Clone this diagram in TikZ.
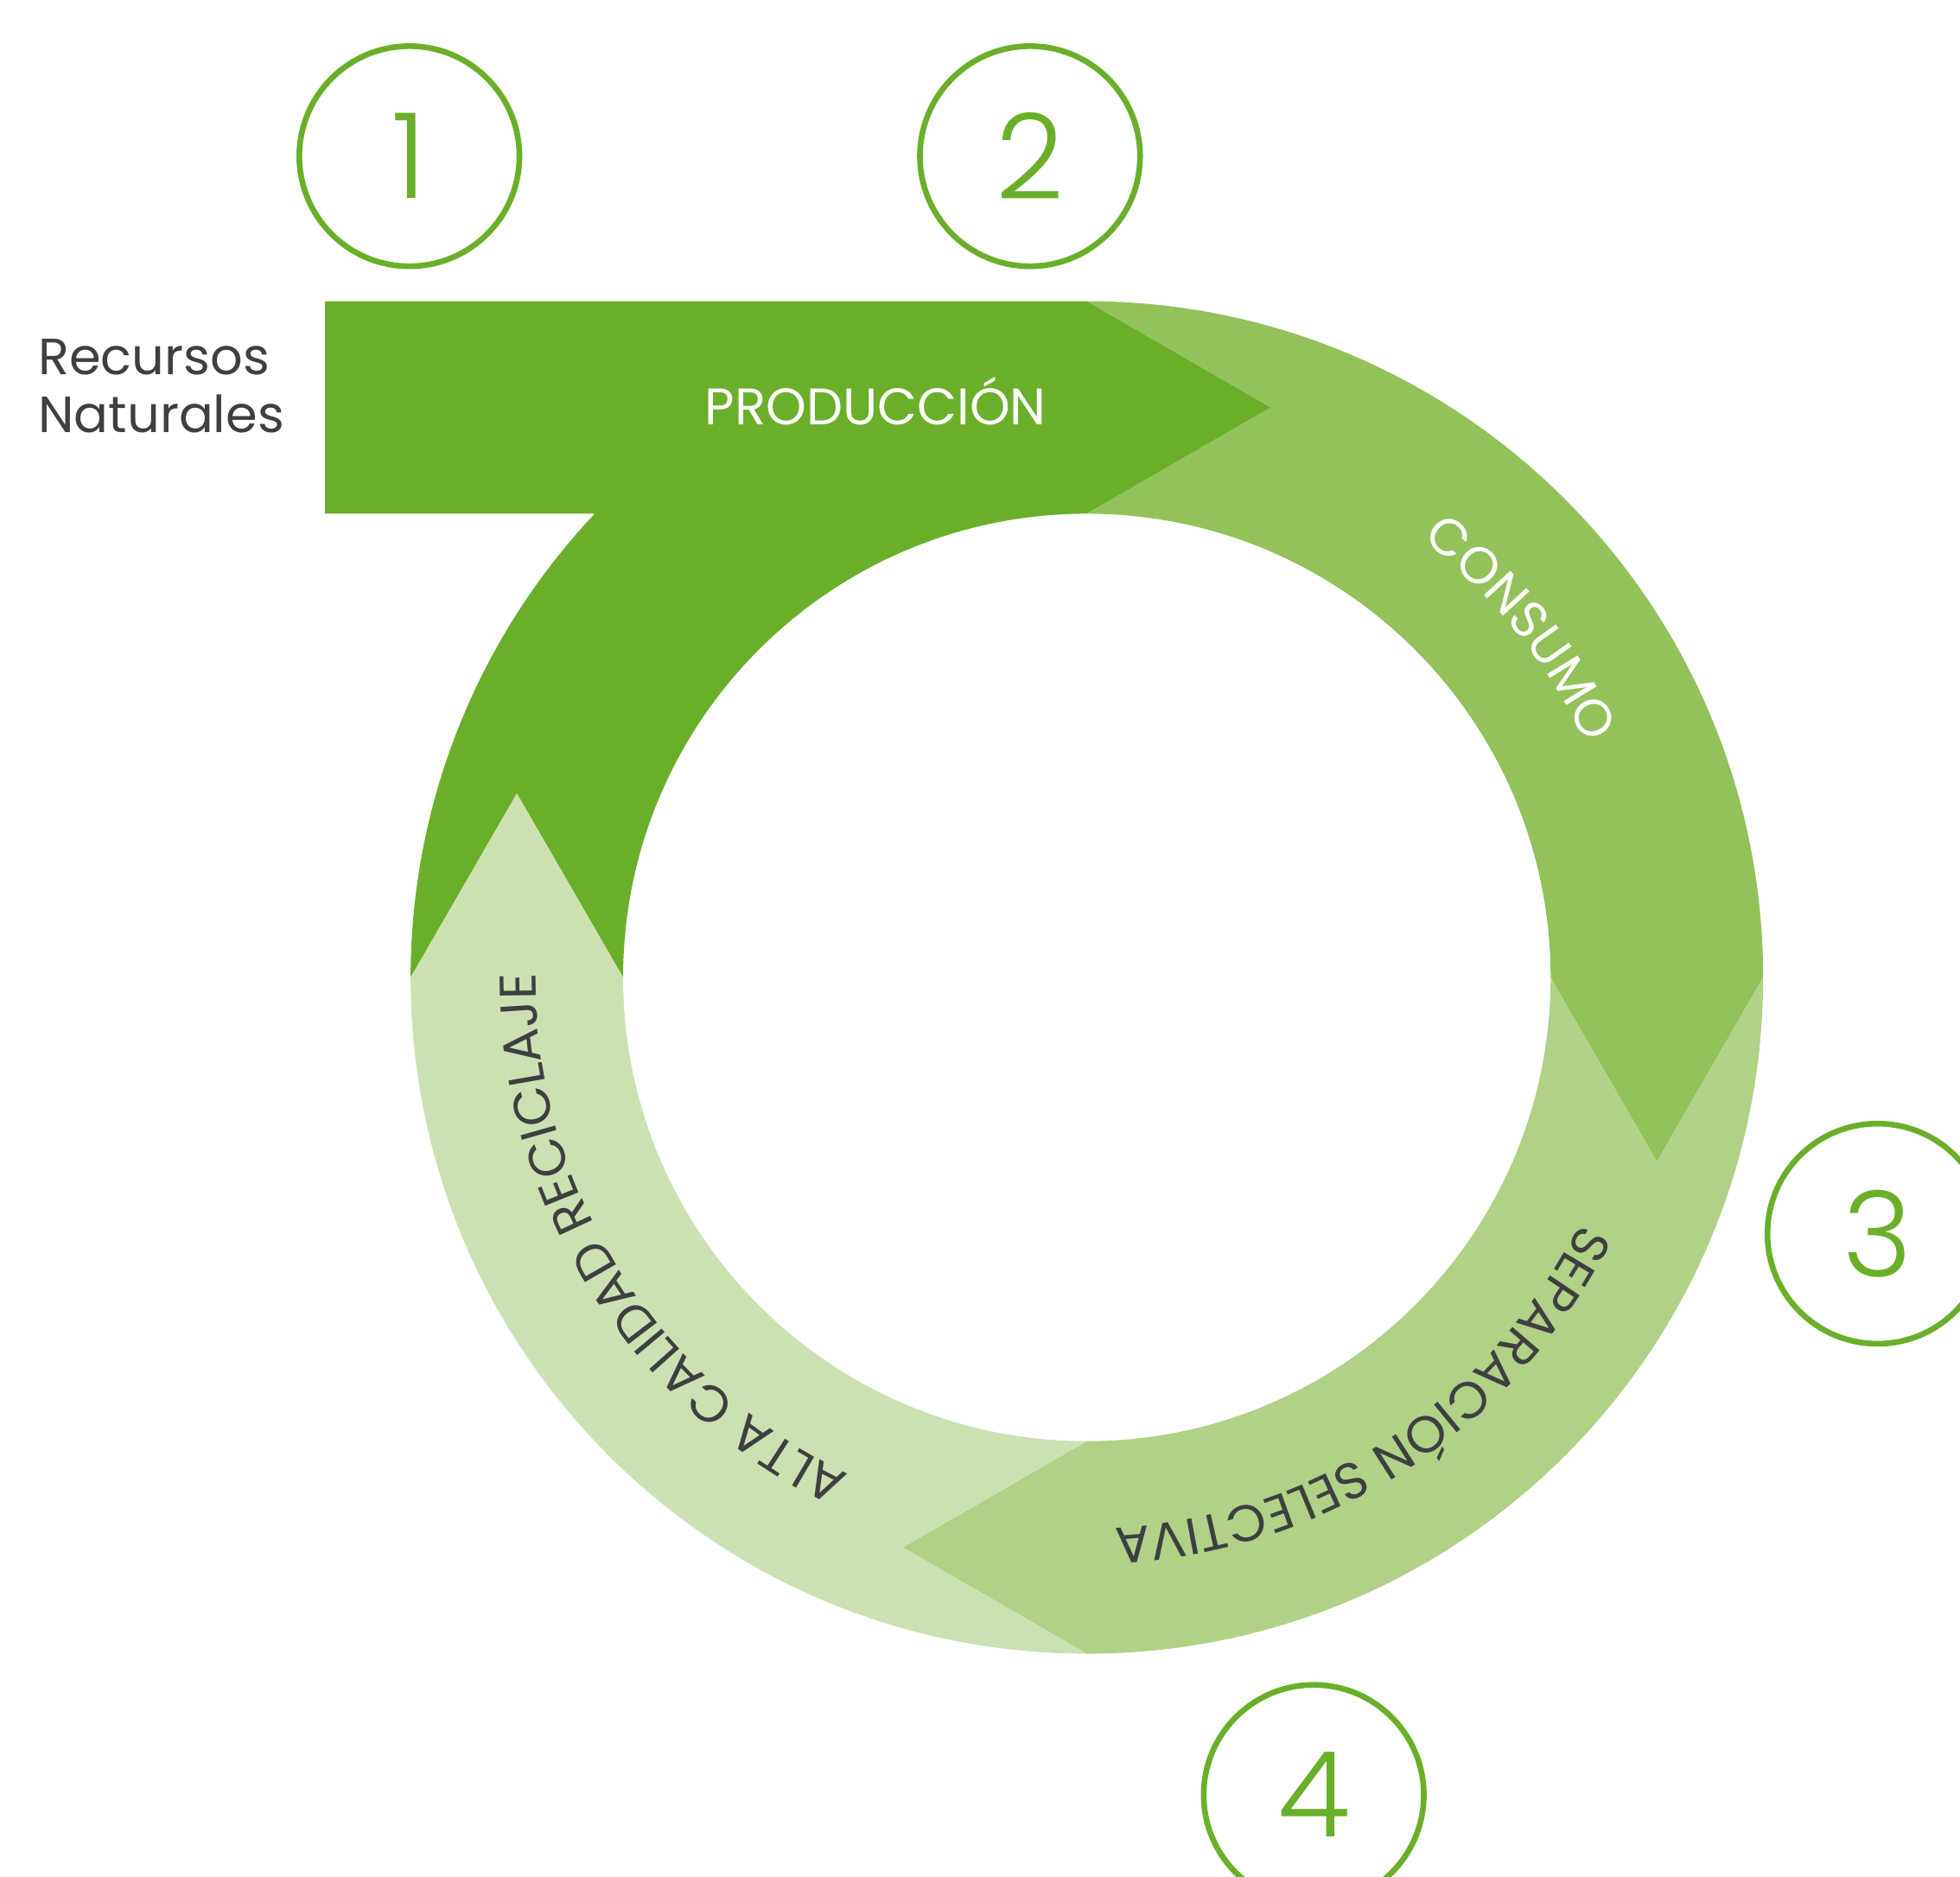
\documentclass[tikz,border=0pt]{standalone}
\usepackage{fontspec}
\setmainfont{Poppins}
\IfFontExistsTF{Poppins Light}{\newfontfamily\numfont{Poppins Light}}{\newfontfamily\numfont{Poppins}}
\usetikzlibrary{calc,decorations.text}
\definecolor{prodgreen}{HTML}{6AAF2A}
\definecolor{consgreen}{HTML}{93C15A}
\definecolor{sepgreen}{HTML}{B0D186}
\definecolor{altagreen}{HTML}{CCE1B2}
\definecolor{textgray}{HTML}{3F3F42}
\newcommand\ringfont{\fontsize{11.7}{14}\selectfont}
\tikzset{
  numcircle/.style={circle,draw=prodgreen,line width=1.3pt,fill=white,minimum size=1.76cm,
    inner sep=0pt,text=prodgreen,font=\numfont\fontsize{27}{27}\selectfont},
  ringtext/.style={decorate,decoration={text along path,text align=center,text={#1}}},
}

\begin{document}
\begin{tikzpicture}[x=0.01cm,y=0.01cm]
\useasboundingbox (0,0) rectangle (1568,1501);
\coordinate (ctr) at (869.5,719);
\def\Ro{541} \def\Ri{371} \def\Rm{456} \def\tip{147.2}
% produccion, with the inlet from the left
\fill[prodgreen] ($(ctr)+(180:\Ro)$) arc[start angle=180,end angle=136.7,radius=\Ro]
  -- (260,1090) -- (260,1260) -- ($(ctr)+(90:\Ro)$) -- ($(ctr)+(90:\Rm)+(0:\tip)$)
  -- ($(ctr)+(90:\Ri)$) arc[start angle=90,end angle=180,radius=\Ri]
  -- ($(ctr)+(180:\Rm)+(90:\tip)$) -- cycle;
% the other three quarters
\foreach \s/\c in {90/consgreen,0/sepgreen,-90/altagreen}{
  \fill[\c] ($(ctr)+(\s:\Ro)$) arc[start angle=\s,end angle=\s-90,radius=\Ro]
    -- ($(ctr)+(\s-90:\Rm)+(\s-180:\tip)$) -- ($(ctr)+(\s-90:\Ri)$)
    arc[start angle=\s-90,end angle=\s,radius=\Ri]
    -- ($(ctr)+(\s:\Rm)+(\s-90:\tip)$) -- cycle;
}
\node[anchor=base,text=white,font=\ringfont,inner sep=0pt] (prod) at (700.5,1161) {PRODUCCIÓN};
\path[ringtext={|\ringfont\color{white}|CONSUMO}]
  ($(ctr)+(88.8:441)$) arc[start angle=88.8,end angle=-11.2,radius=441];
\path[ringtext={|\ringfont\color{textgray}|SEPARACIÓN SELECTIVA}]
  ($(ctr)+(23.2:441)$) arc[start angle=23.2,end angle=-136.8,radius=441];
\path[ringtext={|\ringfont\color{textgray}|ALTA CALIDAD RECICLAJE}]
  ($(ctr)+(-68:441)$) arc[start angle=-68,end angle=-228,radius=441];
\node[anchor=west,align=left,text=textgray,inner sep=0pt,
  font=\fontsize{11.6}{13.1}\selectfont] (rec) at (30,1192) {Recursos\\Naturales};
\node[numcircle] (n1) at (327.5,1376) {1};
\node[numcircle] (n2) at (824,1376) {2};
\node[numcircle] (n3) at (1502,514) {3};
\node[numcircle] (n4) at (1051,65) {4};
\end{tikzpicture}
\end{document}
